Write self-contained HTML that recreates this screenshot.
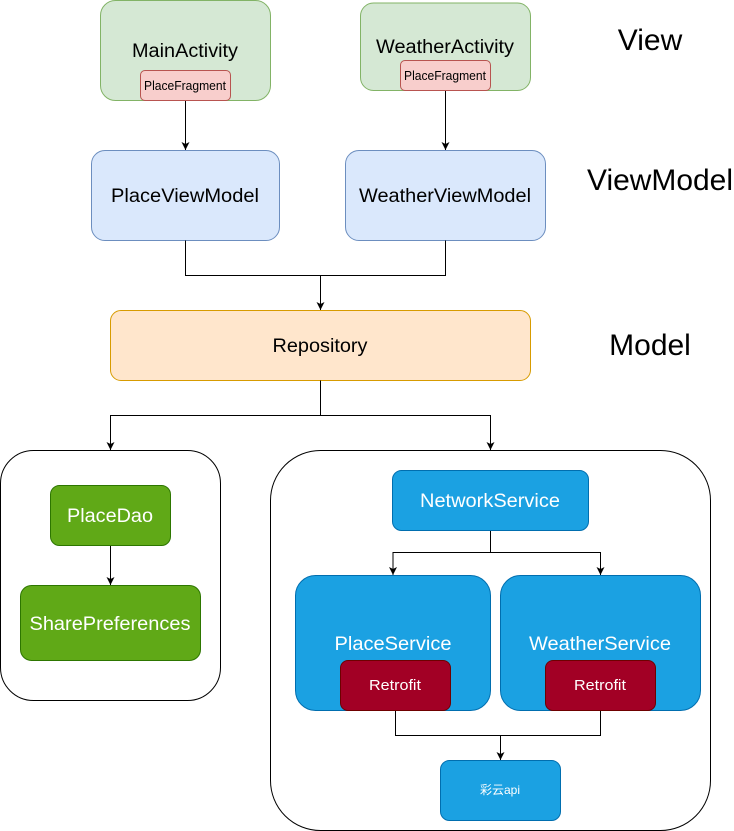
<!DOCTYPE html>
<html><head><meta charset="utf-8"><style>
html,body{margin:0;padding:0;background:#fff}
svg{display:block}
text{font-family:"Liberation Sans","Noto Sans CJK SC",sans-serif;text-anchor:middle}
.l{fill:none;stroke:#000;stroke-width:1}
.g{fill:#d5e8d4;stroke:#82b366}
.r{fill:#f8cecc;stroke:#b85450}
.b{fill:#dae8fc;stroke:#6c8ebf}
.o{fill:#ffe6cc;stroke:#d79b00}
.c{fill:#fff;stroke:#000}
.s{fill:#1ba1e2;stroke:#006eaf}
.d{fill:#a20025;stroke:#6f0000}
.n{fill:#60a917;stroke:#2d7600}
.w{fill:#fff}
</style></head><body>
<svg width="734" height="831" viewBox="0 0 734 831" xmlns="http://www.w3.org/2000/svg">
<defs><marker id="a" markerUnits="userSpaceOnUse" markerWidth="9" markerHeight="10" refX="8" refY="4.5" orient="auto"><path d="M0 0.5L8 4.5L0 8.5L2 4.5Z" fill="#000"/></marker></defs>

<rect class="g" x="100.5" y="0.5" width="170" height="100" rx="15"/>
<rect class="g" x="360.5" y="3" width="170" height="87.5" rx="13"/>
<rect class="b" x="91.5" y="150.5" width="188" height="90" rx="13.5"/>
<rect class="b" x="345.5" y="150.5" width="200" height="90" rx="13.5"/>
<rect class="o" x="110.5" y="310.5" width="420" height="70" rx="10.5"/>
<rect class="c" x="0.5" y="450.5" width="220" height="250" rx="33"/>
<rect class="c" x="270.5" y="450.5" width="440" height="380" rx="50"/>

<path class="l" d="M185.5 100.5V150" marker-end="url(#a)"/>
<path class="l" d="M445.5 90.5V150" marker-end="url(#a)"/>
<path class="l" d="M185.5 240.5V275.5H320.5V310" marker-end="url(#a)"/>
<path class="l" d="M445.5 240.5V275.5H320.5"/>
<path class="l" d="M320.5 380.5V415.5H110.5V450" marker-end="url(#a)"/>
<path class="l" d="M320.5 415.5H490.5V450" marker-end="url(#a)"/>
<path class="l" d="M110.5 545.5V585" marker-end="url(#a)"/>
<path class="l" d="M490.5 530.5V552.5H393V575" marker-end="url(#a)"/>
<path class="l" d="M490.5 552.5H600.5V575" marker-end="url(#a)"/>
<path class="l" d="M395.5 710.5V735.5H500.5V760" marker-end="url(#a)"/>
<path class="l" d="M600.5 710.5V735.5H500.5"/>

<rect class="r" x="140.5" y="70.5" width="90" height="30" rx="4.5"/>
<rect class="r" x="400.5" y="60.5" width="90" height="30" rx="4.5"/>
<rect class="s" x="392.5" y="470.5" width="196" height="60" rx="9"/>
<rect class="s" x="295.5" y="575.5" width="195" height="135" rx="20"/>
<rect class="s" x="500.5" y="575.5" width="200" height="135" rx="20"/>
<rect class="d" x="340.5" y="660.5" width="110" height="50" rx="7.5"/>
<rect class="d" x="545.5" y="660.5" width="110" height="50" rx="7.5"/>
<rect class="s" x="440.5" y="760.5" width="120" height="60" rx="9"/>
<rect class="n" x="50.5" y="485.5" width="120" height="60" rx="9"/>
<rect class="n" x="20.5" y="585.5" width="180" height="75" rx="11"/>

<text x="185" y="57" font-size="19" textLength="106" lengthAdjust="spacingAndGlyphs">MainActivity</text>
<text x="185" y="90" font-size="12.5" textLength="82" lengthAdjust="spacingAndGlyphs">PlaceFragment</text>
<text x="445" y="53" font-size="19" textLength="138" lengthAdjust="spacingAndGlyphs">WeatherActivity</text>
<text x="445" y="80" font-size="12.5" textLength="82" lengthAdjust="spacingAndGlyphs">PlaceFragment</text>
<text x="185" y="202" font-size="19" textLength="148" lengthAdjust="spacingAndGlyphs">PlaceViewModel</text>
<text x="445" y="202" font-size="19" textLength="172" lengthAdjust="spacingAndGlyphs">WeatherViewModel</text>
<text x="320" y="352" font-size="19" textLength="95" lengthAdjust="spacingAndGlyphs">Repository</text>
<text class="w" x="110" y="522" font-size="19" textLength="86" lengthAdjust="spacingAndGlyphs">PlaceDao</text>
<text class="w" x="110" y="630" font-size="19" textLength="161" lengthAdjust="spacingAndGlyphs">SharePreferences</text>
<text class="w" x="490" y="507" font-size="19" textLength="140" lengthAdjust="spacingAndGlyphs">NetworkService</text>
<text class="w" x="393" y="650" font-size="19" textLength="117" lengthAdjust="spacingAndGlyphs">PlaceService</text>
<text class="w" x="600" y="650" font-size="19" textLength="142" lengthAdjust="spacingAndGlyphs">WeatherService</text>
<text class="w" x="395" y="690" font-size="15" textLength="52" lengthAdjust="spacingAndGlyphs">Retrofit</text>
<text class="w" x="600" y="690" font-size="15" textLength="52" lengthAdjust="spacingAndGlyphs">Retrofit</text>
<text class="w" x="500" y="794" font-size="12">彩云api</text>
<text x="650" y="50" font-size="30">View</text>
<text x="660" y="190" font-size="30" textLength="146" lengthAdjust="spacingAndGlyphs">ViewModel</text>
<text x="650" y="355" font-size="30">Model</text>
</svg>
</body></html>
